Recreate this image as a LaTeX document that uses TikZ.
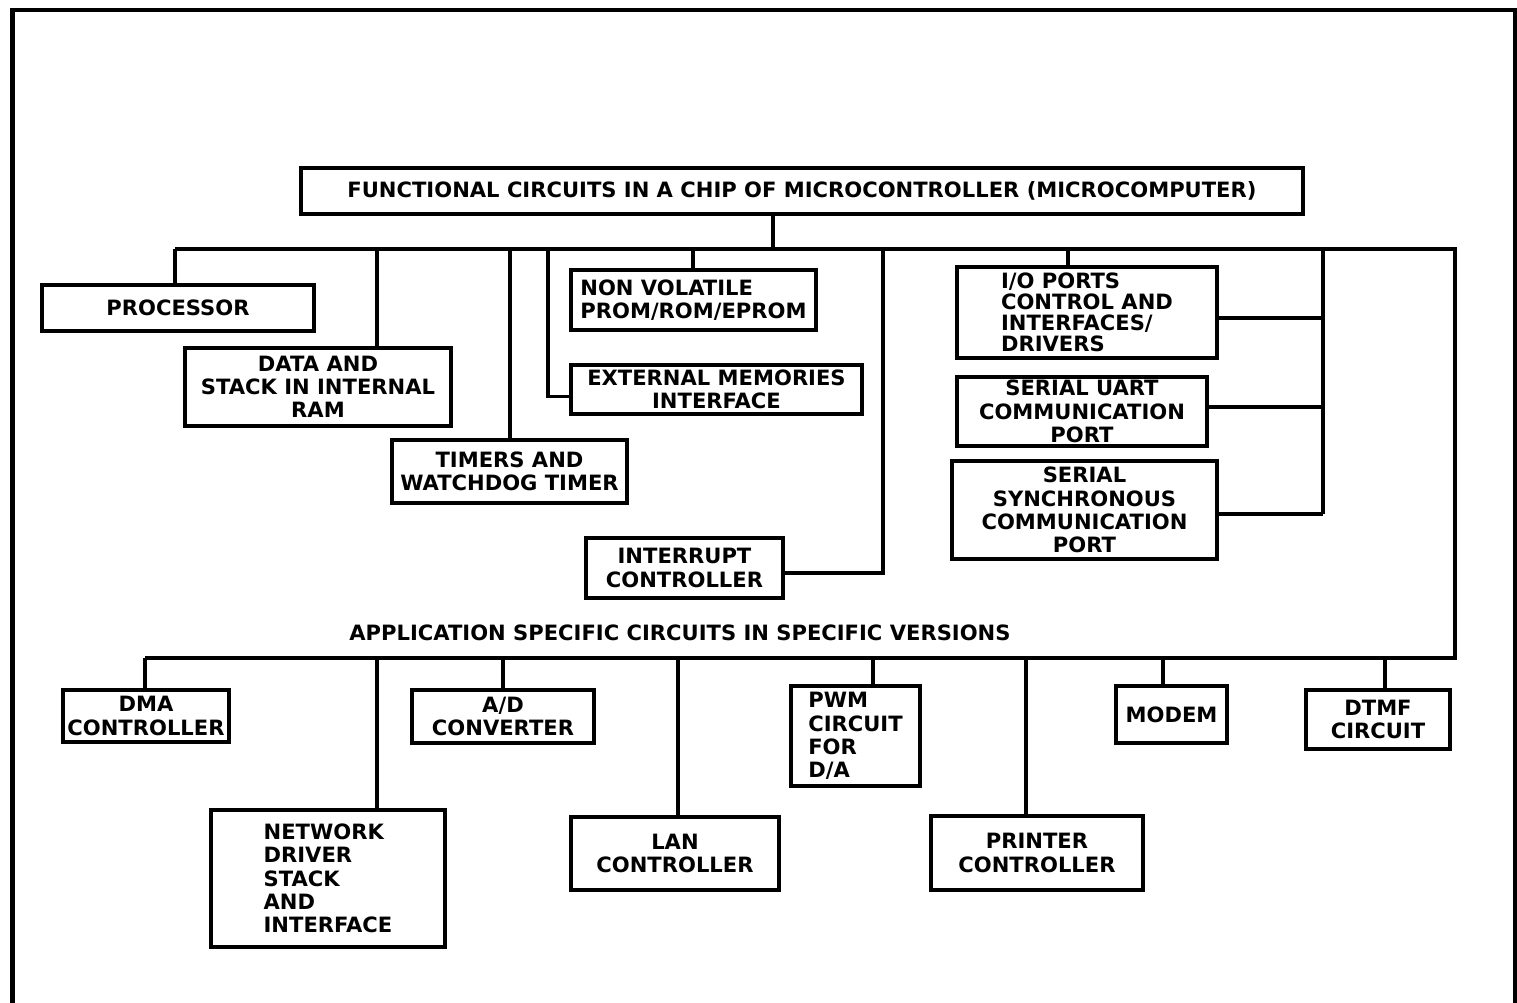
\documentclass[tikz,border=0pt]{standalone}
\usepackage{fontspec}
\setmainfont{DejaVu Sans}
\usepackage{tikz}

\begin{document}
\begin{tikzpicture}[line width=1.1pt,
                    block node/.style={draw,line width=1.2pt,inner sep=0pt,align=center,
                      font=\fontsize{6}{6.6}\selectfont\bfseries},
                    left node/.style={block node,align=left}]

  \useasboundingbox (0,0) rectangle (15.17,-10.03);
  % page frame
  \draw[line width=1.3pt] (0.125,-10.03) -- (0.125,-0.1) -- (15.155,-0.1) -- (15.155,-10.03);

  \node[block node,minimum width=10.02cm,minimum height=0.46cm] (top) at (8.02,-1.91)
    {FUNCTIONAL CIRCUITS IN A CHIP OF MICROCONTROLLER (MICROCOMPUTER)};

  % functional circuits
  \node[block node,minimum width=2.72cm,minimum height=0.46cm] (proc) at (1.78,-3.08) {PROCESSOR};
  \node[block node,minimum width=2.66cm,minimum height=0.78cm] (data) at (3.18,-3.87)
    {DATA AND\\STACK IN INTERNAL\\RAM};
  \node[block node,minimum width=2.35cm,minimum height=0.63cm] (tim) at (5.095,-4.715)
    {TIMERS AND\\WATCHDOG TIMER};
  \node[left node,minimum width=2.45cm,minimum height=0.60cm] (nvm) at (6.935,-3.00)
    {NON VOLATILE\\PROM/ROM/EPROM};
  \node[block node,minimum width=2.91cm,minimum height=0.49cm] (ext) at (7.165,-3.895)
    {EXTERNAL MEMORIES\\INTERFACE};
  \node[block node,minimum width=1.97cm,minimum height=0.60cm] (intr) at (6.845,-5.68)
    {INTERRUPT\\CONTROLLER};
  \node[left node,minimum width=2.60cm,minimum height=0.91cm,
        font=\fontsize{6}{6}\selectfont\bfseries] (io) at (10.87,-3.125)
    {I/O PORTS\\CONTROL AND\\INTERFACES/\\DRIVERS};
  \node[block node,minimum width=2.50cm,minimum height=0.69cm] (uart) at (10.82,-4.115)
    {SERIAL UART\\COMMUNICATION\\PORT};
  \node[block node,minimum width=2.65cm,minimum height=0.98cm] (sync) at (10.845,-5.10)
    {SERIAL\\SYNCHRONOUS\\COMMUNICATION\\PORT};

  \node[font=\fontsize{6}{6.6}\selectfont\bfseries] (app) at (6.80,-6.33)
    {APPLICATION SPECIFIC CIRCUITS IN SPECIFIC VERSIONS};

  % application specific circuits
  \node[block node,minimum width=1.66cm,minimum height=0.52cm] (dma) at (1.46,-7.16)
    {DMA\\CONTROLLER};
  \node[left node,minimum width=2.34cm,minimum height=1.37cm] (net) at (3.28,-8.785)
    {NETWORK\\DRIVER\\STACK\\AND\\INTERFACE};
  \node[block node,minimum width=1.82cm,minimum height=0.53cm] (adc) at (5.03,-7.165)
    {A/D\\CONVERTER};
  \node[block node,minimum width=2.08cm,minimum height=0.73cm] (lan) at (6.75,-8.535)
    {LAN\\CONTROLLER};
  \node[left node,minimum width=1.29cm,minimum height=1.00cm] (pwm) at (8.555,-7.36)
    {PWM\\CIRCUIT\\FOR\\D/A};
  \node[block node,minimum width=2.12cm,minimum height=0.74cm] (prn) at (10.37,-8.53)
    {PRINTER\\CONTROLLER};
  \node[block node,minimum width=1.11cm,minimum height=0.57cm] (modem) at (11.715,-7.145)
    {MODEM};
  \node[block node,minimum width=1.44cm,minimum height=0.59cm] (dtmf) at (13.78,-7.195)
    {DTMF\\CIRCUIT};

  % upper bus
  \coordinate (tTop)  at (7.73,-2.49);
  \coordinate (tProc) at (1.75,-2.49);
  \coordinate (tData) at (3.77,-2.49);
  \coordinate (tTim)  at (5.10,-2.49);
  \coordinate (tExt)  at (5.48,-2.49);
  \coordinate (tNvm)  at (6.93,-2.49);
  \coordinate (tInt)  at (8.83,-2.49);
  \coordinate (tIo)   at (10.68,-2.49);
  \coordinate (tSer)  at (13.23,-2.49);
  \coordinate (busR)  at (14.55,-2.49);
  % lower bus
  \coordinate (lDma)  at (1.45,-6.58);
  \coordinate (lNet)  at (3.77,-6.58);
  \coordinate (lAdc)  at (5.03,-6.58);
  \coordinate (lLan)  at (6.78,-6.58);
  \coordinate (lPwm)  at (8.73,-6.58);
  \coordinate (lPrn)  at (10.26,-6.58);
  \coordinate (lMod)  at (11.63,-6.58);
  \coordinate (lDtmf) at (13.85,-6.58);
  \coordinate (lowR)  at (14.55,-6.58);
  % side joints
  \coordinate (jExt)  at ([yshift=-0.07cm]ext.west);
  \coordinate (jInt)  at ([yshift=-0.05cm]intr.east);
  \coordinate (jIo)   at ([yshift=-0.055cm]io.east);
  \coordinate (jUart) at ([yshift=0.045cm]uart.east);
  \coordinate (jSync) at ([yshift=-0.04cm]sync.east);

  \draw (tTop |- top.south) -- (tTop);
  \draw (tProc) -- (busR) -- (lowR) -- (lDma);

  \draw (tProc) -- (tProc |- proc.north);
  \draw (tData) -- (tData |- data.north);
  \draw (tTim) -- (tTim |- tim.north);
  \draw (tExt) |- (jExt);
  \draw (tNvm) -- (tNvm |- nvm.north);
  \draw (tInt) |- (jInt);
  \draw (tIo) -- (tIo |- io.north);
  \draw (tSer) -- (tSer |- jSync);
  \draw (jIo) -- (jIo -| tSer);
  \draw (jUart) -- (jUart -| tSer);
  \draw (jSync) -- (jSync -| tSer);

  \draw (lDma) -- (lDma |- dma.north);
  \draw (lNet) -- (lNet |- net.north);
  \draw (lAdc) -- (lAdc |- adc.north);
  \draw (lLan) -- (lLan |- lan.north);
  \draw (lPwm) -- (lPwm |- pwm.north);
  \draw (lPrn) -- (lPrn |- prn.north);
  \draw (lMod) -- (lMod |- modem.north);
  \draw (lDtmf) -- (lDtmf |- dtmf.north);
\end{tikzpicture}
\end{document}
